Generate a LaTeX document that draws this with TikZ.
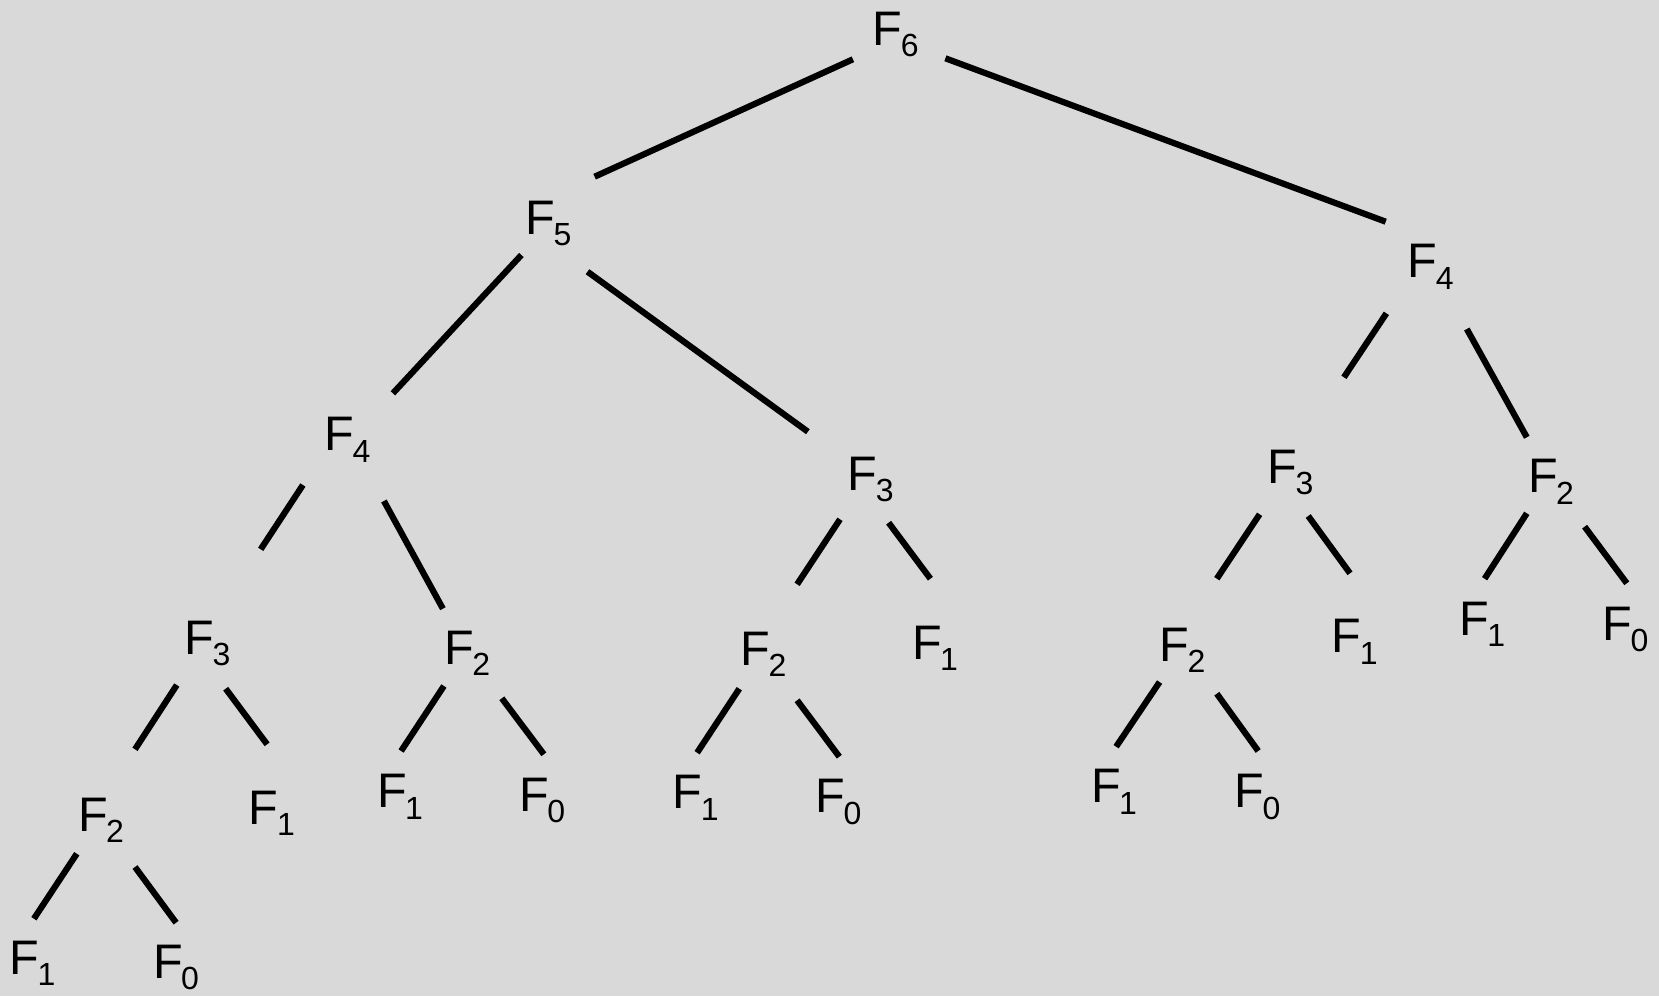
\documentclass[tikz,border=0pt]{standalone}
\usepackage{fontspec}
\setmainfont{Liberation Sans}
\definecolor{bg}{HTML}{D9D9D9}
% Fibonacci call label: F with a lowered index
\newcommand{\Fib}[1]{F\kern-1.5pt\raisebox{-11.5pt}{\fontsize{32}{32}\selectfont #1}}
% connector between two labels, each end offset from the label's base west point
\newcommand{\conn}[4]{\draw[edge] ([shift={(#2)}]#1.base west) -- ([shift={(#4)}]#3.base west);}
\begin{document}
\begin{tikzpicture}[x=1pt,y=-1pt,
  lbl/.style={inner sep=0pt, outer sep=0pt, anchor=base west, font=\fontsize{48.5}{48.5}\selectfont},
  edge/.style={line width=6.2pt, draw=black}]
\fill[bg] (0,0) rectangle (1659,996);
\useasboundingbox (0,0) rectangle (1659,996);

% labels
\node[lbl] (f6)   at (872.8,45)    {\Fib{6}};
\node[lbl] (f5)   at (525.6,234)   {\Fib{5}};
\node[lbl] (f4r)  at (1407.8,277.7){\Fib{4}};
\node[lbl] (f4l)  at (324.6,450.7) {\Fib{4}};
\node[lbl] (f3m)  at (847.8,490)   {\Fib{3}};
\node[lbl] (f3r)  at (1267.4,483.3){\Fib{3}};
\node[lbl] (f2rr) at (1528,492.7)  {\Fib{2}};
\node[lbl] (f3l)  at (184.6,654.3) {\Fib{3}};
\node[lbl] (f2a)  at (444.2,664.3) {\Fib{2}};
\node[lbl] (f2b)  at (740.6,665.3) {\Fib{2}};
\node[lbl] (f1b)  at (912,659.3)   {\Fib{1}};
\node[lbl] (f2c)  at (1159.6,661)  {\Fib{2}};
\node[lbl] (f1c)  at (1331.7,652.7){\Fib{1}};
\node[lbl] (f1d)  at (1459.2,635.3){\Fib{1}};
\node[lbl] (f0d)  at (1602.4,640)  {\Fib{0}};
\node[lbl] (f2l)  at (78.1,831)    {\Fib{2}};
\node[lbl] (f1l)  at (248.9,824.3) {\Fib{1}};
\node[lbl] (f1a)  at (377,807.7)   {\Fib{1}};
\node[lbl] (f0a)  at (519.2,811)   {\Fib{0}};
\node[lbl] (f1e)  at (672.8,808.7) {\Fib{1}};
\node[lbl] (f0e)  at (815.6,812.7) {\Fib{0}};
\node[lbl] (f1f)  at (1091,802.7)  {\Fib{1}};
\node[lbl] (f0f)  at (1234.6,807.7){\Fib{0}};
\node[lbl] (f1g)  at (9.6,974.3)   {\Fib{1}};
\node[lbl] (f0g)  at (153.1,978.3) {\Fib{0}};

% connectors
\conn{f6}{-19.9,14.3}{f5}{69,-57.3}
\conn{f6}{72.6,13.3}{f4r}{-22.1,-56}
\conn{f5}{-4.2,21}{f4l}{68.3,-57.4}
\conn{f5}{61.9,37.7}{f3m}{-39.9,-58.3}
\conn{f4r}{-21.4,35.6}{f3r}{76.5,-106}
\conn{f4r}{59,51.3}{f2rr}{-1.2,-55.4}
\conn{f4l}{-21.7,34.3}{f3l}{76.1,-105}
\conn{f4l}{59.3,50.3}{f2a}{-1.3,-55.6}
\conn{f3m}{-7.8,29.3}{f2b}{56.5,-81}
\conn{f3m}{40.8,32.7}{f1b}{18.4,-80.6}
\conn{f3r}{-7.8,31}{f2c}{57.2,-82.3}
\conn{f3r}{40.8,32.7}{f1c}{18.3,-79.4}
\conn{f2rr}{-1.2,20.6}{f1d}{25.4,-56.6}
\conn{f2rr}{56.6,34}{f0d}{24.4,-56.7}
\conn{f3l}{-7.8,30.7}{f2l}{56.9,-81.7}
\conn{f3l}{41.1,34.4}{f1l}{18.2,-80}
\conn{f2a}{-0.3,21.7}{f1a}{24.1,-56.7}
\conn{f2a}{57.6,34}{f0a}{24.7,-56.7}
\conn{f2b}{-1.3,23.4}{f1e}{24.3,-56}
\conn{f2b}{56.5,35}{f0e}{23.7,-56}
\conn{f2c}{0,21}{f1f}{25.1,-56}
\conn{f2c}{57.2,32.7}{f0f}{23.6,-56.7}
\conn{f2l}{-1.3,22.7}{f1g}{24.3,-55.6}
\conn{f2l}{56.9,36}{f0g}{23,-55.6}
\end{tikzpicture}
\end{document}
